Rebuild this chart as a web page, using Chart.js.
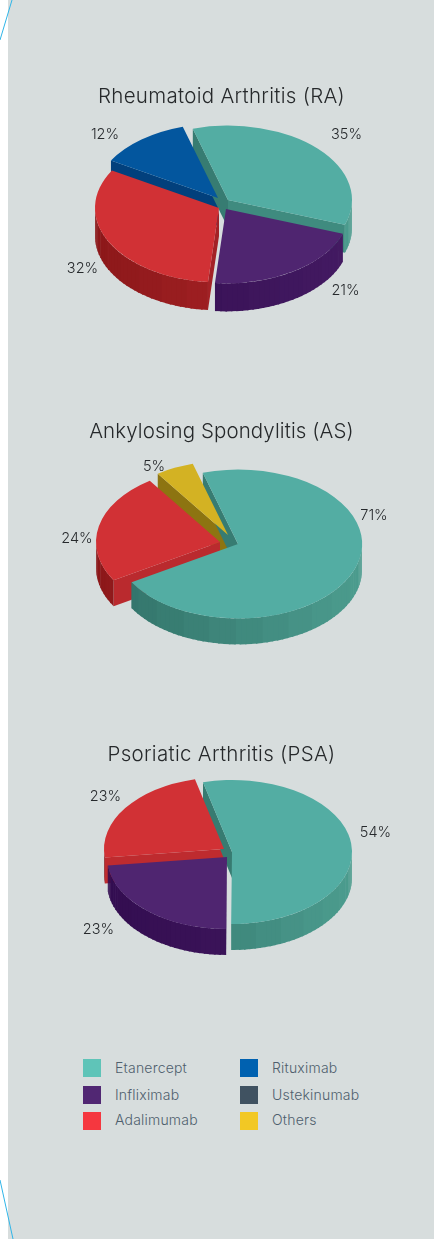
<!DOCTYPE html>
<html>
<head>
<meta charset="utf-8">
<script src="https://cdn.jsdelivr.net/npm/chart.js@4"></script>
<style>
html,body{margin:0;padding:0;background:#fff;overflow:hidden;}
#page{position:relative;width:438px;height:1239px;overflow:hidden;}
#panel{position:absolute;left:8px;top:0;width:426px;height:1239px;background:#d7dddd;}
canvas{position:absolute;}
svg{position:absolute;left:0;top:0;}
.titulo{position:absolute;left:0;width:443px;text-align:center;font:300 20.5px Inter,sans-serif;color:#26292b;line-height:24px;letter-spacing:.3px;}
.item{position:absolute;font:300 14px Inter,sans-serif;color:#4f5f6d;line-height:18px;letter-spacing:.2px;}
.caixa{position:absolute;width:18px;height:18px;}
</style>
</head>
<body>
<div id="page">
  <div id="panel"></div>
  <svg width="438" height="1239">
    <line x1="12" y1="0" x2="0" y2="40" stroke="#2fb5e8" stroke-width="1"/>
    <line x1="0" y1="1180" x2="13" y2="1239" stroke="#2fb5e8" stroke-width="1"/>
  </svg>
  <canvas id="graficoRA" width="420" height="300"></canvas>
  <canvas id="graficoAS" width="420" height="300"></canvas>
  <canvas id="graficoPSA" width="420" height="300"></canvas>
</div>
<script>
// valores
const raTitle = 'Rheumatoid Arthritis (RA)';
const raNames = ['Etanercept', 'Infliximab', 'Adalimumab', 'Rituximab'];
const raValues = [35, 21, 32, 12];

const asTitle = 'Ankylosing Spondylitis (AS)';
const asNames = ['Etanercept', 'Adalimumab', 'Others'];
const asValues = [71, 24, 5];

const psaTitle = 'Psoriatic Arthritis (PSA)';
const psaNames = ['Etanercept', 'Infliximab', 'Adalimumab'];
const psaValues = [54, 23, 23];

const legendLeft = ['Etanercept', 'Infliximab', 'Adalimumab'];
const legendRight = ['Rituximab', 'Ustekinumab', 'Others'];

const legendColors = {Etanercept:'#5fc4b8', Infliximab:'#512773', Adalimumab:'#f5373f', Rituximab:'#0061b0', Ustekinumab:'#405261', Others:'#f2c824'};
const topColors = {Etanercept:'#53ada3', Infliximab:'#4f2570', Adalimumab:'#d13135', Rituximab:'#03569e', Others:'#d3b223'};
const faceColors = {
  Etanercept:[[52,118,108],[64,140,128]],
  Infliximab:[[58,21,89],[58,21,89]],
  Adalimumab:[[160,33,37],[190,43,47]],
  Rituximab:[[2,64,124],[2,64,124]],
  Others:[[141,116,17],[141,116,17]]
};
const wallColors = {
  Etanercept:[[50,115,106],[76,156,142]],
  Infliximab:[[51,13,80],[67,26,98]],
  Adalimumab:[[140,24,26],[176,38,41]],
  Rituximab:[[2,60,115],[2,70,130]],
  Others:[[130,105,15],[150,120,20]]
};

function mistura(par, t){
  t = Math.max(0, Math.min(1, t));
  let c = [0,1,2].map(i => Math.round(par[0][i] + (par[1][i]-par[0][i])*t));
  return 'rgb(' + c.join(',') + ')';
}

const pizza3d = {
  id: 'pizza3d',
  // afasta cada fatia do centro
  afterDatasetsUpdate(chart, args, opts){
    chart.getDatasetMeta(0).data.forEach((arc, i) => {
      arc.x += opts.shift[i][0];
      arc.y += opts.shift[i][1]/opts.tilt;
    });
  },
  beforeDatasetsDraw(chart, args, opts){
    const ctx = chart.ctx;
    const cy = chart.chartArea.top + chart.chartArea.height/2;
    const arcs = chart.getDatasetMeta(0).data;
    const k = opts.tilt, h = opts.depth;
    let lista = arcs.map((arc, i) => ({arc, nome: opts.names[i], meio: (arc.startAngle+arc.endAngle)/2}));
    // de tras para frente
    lista.sort((a,b) => Math.sin(a.meio) - Math.sin(b.meio));
    for(const s of lista){
      const arc = s.arc, R = arc.outerRadius;
      const px = a => arc.x + R*Math.cos(a);
      const py = a => cy + k*(arc.y - cy + R*Math.sin(a));
      const ax = arc.x, ay = cy + k*(arc.y - cy);
      const face = (a, luz) => {
        ctx.fillStyle = mistura(faceColors[s.nome], luz);
        ctx.beginPath();
        ctx.moveTo(ax, ay);
        ctx.lineTo(px(a), py(a));
        ctx.lineTo(px(a), py(a)+h);
        ctx.lineTo(ax, ay+h);
        ctx.closePath();
        ctx.fill();
      };
      if(-Math.cos(arc.startAngle) > 0) face(arc.startAngle, -Math.cos(arc.startAngle));
      if(Math.cos(arc.endAngle) > 0) face(arc.endAngle, Math.cos(arc.endAngle));
      // parede externa em facetas
      const passo = Math.PI/72, faceta = Math.PI/14;
      for(let a = arc.startAngle; a < arc.endAngle; a += passo){
        const b = Math.min(a+passo*1.3, arc.endAngle);
        if(Math.sin(a+passo/2) < 0) continue;
        const grupo = Math.floor(a/faceta)*faceta + faceta/2;
        ctx.fillStyle = mistura(wallColors[s.nome], (px(grupo) - (arc.x-R))/(2*R));
        ctx.beginPath();
        ctx.moveTo(px(a), py(a));
        ctx.lineTo(px(b), py(b));
        ctx.lineTo(px(b), py(b)+h);
        ctx.lineTo(px(a), py(a)+h);
        ctx.closePath();
        ctx.fill();
      }
    }
  },
  beforeDatasetDraw(chart, args, opts){
    const ctx = chart.ctx, cy = chart.chartArea.top + chart.chartArea.height/2;
    ctx.save();
    ctx.translate(0, cy);
    ctx.scale(1, opts.tilt);
    ctx.translate(0, -cy);
  },
  afterDatasetDraw(chart){
    chart.ctx.restore();
  },
  afterDatasetsDraw(chart, args, opts){
    const ctx = chart.ctx;
    const cx = chart.chartArea.left + chart.chartArea.width/2, cy = chart.chartArea.top + chart.chartArea.height/2;
    ctx.save();
    ctx.font = '300 14.5px Inter, sans-serif';
    ctx.fillStyle = '#26292c';
    ctx.textAlign = 'center';
    ctx.textBaseline = 'middle';
    chart.data.datasets[0].data.forEach((v, i) => {
      ctx.fillText(v + '%', cx + opts.labels[i][0], cy + opts.labels[i][1]);
    });
    ctx.restore();
  }
};

function desenhaPizza(id, titulo, nomes, valores, cfg){
  const canvas = document.getElementById(id);
  canvas.style.left = (cfg.cx - 210) + 'px';
  canvas.style.top = (cfg.cy - 150) + 'px';
  let t = document.createElement('div');
  t.className = 'titulo';
  t.textContent = titulo;
  t.style.top = (cfg.titleY - 12) + 'px';
  if(cfg.titleSpacing !== undefined) t.style.letterSpacing = cfg.titleSpacing + 'px';
  document.getElementById('page').appendChild(t);
  new Chart(canvas, {
    type: 'pie',
    data: {
      labels: nomes,
      datasets: [{
        data: valores,
        backgroundColor: nomes.map(n => topColors[n]),
        borderWidth: 0,
        radius: cfg.r,
        clip: false
      }]
    },
    options: {
      responsive: false,
      animation: false,
      rotation: cfg.rotation,
      events: [],
      plugins: {
        legend: {display: false},
        tooltip: {enabled: false},
        pizza3d: {tilt: 0.6, depth: cfg.depth, names: nomes, labels: cfg.labels, shift: cfg.shift}
      }
    },
    plugins: [pizza3d]
  });
}

desenhaPizza('graficoRA', raTitle, raNames, raValues, {
  cx: 222, cy: 204, titleY: 96, r: 124, depth: 28, rotation: -16.5,
  shift: [[6,-4],[4,5],[-3,4],[-4,-6]],
  labels: [[124.5,-69],[123.5,87],[-139.5,65],[-117,-69]]
});
desenhaPizza('graficoAS', asTitle, asNames, asValues, {
  cx: 228, cy: 541, titleY: 431, r: 124, depth: 26, rotation: -16.5, titleSpacing: 0.1,
  shift: [[10,3],[-8,1],[0,-6]],
  labels: [[146,-25],[-151,-2],[-74,-74]]
});
desenhaPizza('graficoPSA', psaTitle, psaNames, psaValues, {
  cx: 228, cy: 853, titleY: 754, r: 120, depth: 26, rotation: -14,
  shift: [[4,-1],[-1,4],[-4,-4]],
  labels: [[147.5,-20],[-129.5,77],[-122.5,-56]]
});

function itemLegenda(nome, xCaixa, xTexto, y, yTexto){
  const page = document.getElementById('page');
  let c = document.createElement('div');
  c.className = 'caixa';
  c.style.left = xCaixa + 'px';
  c.style.top = y + 'px';
  c.style.background = legendColors[nome];
  page.appendChild(c);
  let t = document.createElement('div');
  t.className = 'item';
  t.textContent = nome;
  t.style.left = xTexto + 'px';
  t.style.top = yTexto + 'px';
  page.appendChild(t);
}
const legendY = [1059, 1086, 1112];
const legendTextY = [1059, 1086, 1111];
legendLeft.forEach((n, i) => itemLegenda(n, 83, 115, legendY[i], legendTextY[i]));
legendRight.forEach((n, i) => itemLegenda(n, 240, 272, legendY[i], legendTextY[i]));
</script>
</body>
</html>
